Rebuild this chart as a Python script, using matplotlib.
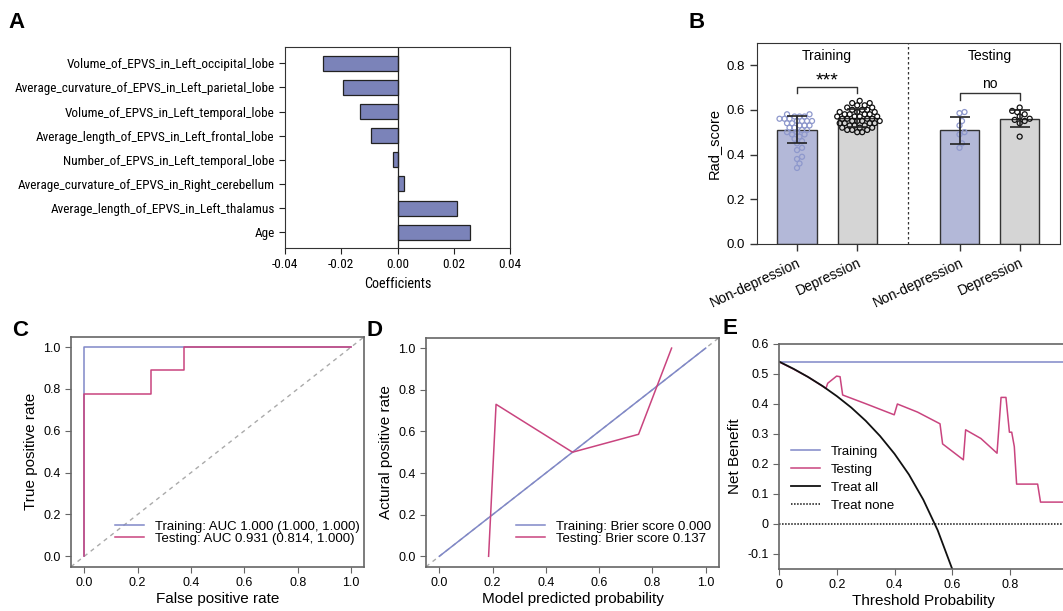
import numpy as np
import matplotlib
matplotlib.use("Agg")
from matplotlib import pyplot as plt
from matplotlib import font_manager

plt.rcParams['font.family'] = ['Liberation Sans', 'DejaVu Sans']

# ---- data ----
feature_names = [
    "Volume_of_EPVS_in_Left_occipital_lobe",
    "Average_curvature_of_EPVS_in_Left_parietal_lobe",
    "Volume_of_EPVS_in_Left_temporal_lobe",
    "Average_length_of_EPVS_in_Left_frontal_lobe",
    "Number_of_EPVS_in_Left_temporal_lobe",
    "Average_curvature_of_EPVS_in_Right_cerebellum",
    "Average_length_of_EPVS_in_Left_thalamus",
    "Age",
]
coefficients = [-0.0266, -0.0195, -0.0133, -0.0094, -0.0015, 0.0024, 0.0213, 0.0257]

group_labels = ["Non-depression", "Depression", "Non-depression", "Depression"]
group_means = [0.511, 0.562, 0.508, 0.559]
group_sd = [0.061, 0.040, 0.060, 0.038]
train_nondep = [0.34, 0.36, 0.38, 0.39, 0.42, 0.43, 0.45, 0.46, 0.47, 0.48, 0.49, 0.49,
                0.50, 0.50, 0.51, 0.51, 0.52, 0.52, 0.53, 0.53, 0.53, 0.54, 0.54, 0.55,
                0.55, 0.55, 0.55, 0.56, 0.56, 0.56, 0.57, 0.57, 0.57, 0.58, 0.58]
train_dep = [0.50, 0.50, 0.51, 0.51, 0.51, 0.52, 0.52, 0.52, 0.53, 0.53, 0.53, 0.54,
             0.54, 0.54, 0.54, 0.55, 0.55, 0.55, 0.55, 0.56, 0.56, 0.56, 0.56, 0.57,
             0.57, 0.57, 0.57, 0.58, 0.58, 0.58, 0.58, 0.59, 0.59, 0.59, 0.60, 0.60,
             0.60, 0.61, 0.61, 0.62, 0.62, 0.63, 0.63, 0.64]
test_nondep = [0.43, 0.45, 0.49, 0.50, 0.53, 0.55, 0.585, 0.59]
test_dep = [0.48, 0.54, 0.55, 0.555, 0.56, 0.57, 0.58, 0.59, 0.595, 0.61]

roc_train_fpr = [0.0, 0.0, 1.0]
roc_train_tpr = [0.0, 1.0, 1.0]
roc_test_fpr = [0.0, 0.0, 0.25, 0.25, 0.375, 0.375, 1.0]
roc_test_tpr = [0.0, 0.778, 0.778, 0.889, 0.889, 1.0, 1.0]

cal_train_pred = [0.0, 1.0]
cal_train_obs = [0.0, 1.0]
cal_test_pred = [0.185, 0.213, 0.5, 0.748, 0.872]
cal_test_obs = [0.0, 0.73, 0.5, 0.586, 1.0]

dca_train_x = [0.0, 1.0]
dca_train_y = [0.539, 0.539]
dca_test_x = [0.0, 0.05, 0.1, 0.162, 0.168, 0.199, 0.211, 0.22, 0.30, 0.399, 0.41, 0.48,
              0.558, 0.567, 0.639, 0.647, 0.70, 0.756, 0.77, 0.787, 0.799, 0.807, 0.816,
              0.824, 0.897, 0.907, 1.0]
dca_test_y = [0.539, 0.515, 0.489, 0.451, 0.468, 0.492, 0.49, 0.429, 0.40, 0.363, 0.399,
              0.372, 0.333, 0.266, 0.213, 0.313, 0.284, 0.235, 0.421, 0.421, 0.305, 0.305,
              0.257, 0.132, 0.132, 0.072, 0.072]
treat_all_x = [0.0, 0.05, 0.1, 0.15, 0.2, 0.25, 0.3, 0.35, 0.4, 0.45, 0.5, 0.55, 0.6]
treat_all_y = [0.54, 0.516, 0.489, 0.459, 0.425, 0.387, 0.343, 0.292, 0.233, 0.164,
               0.08, -0.022, -0.15]

C_TRAIN = '#8088c8'
C_TEST = '#c9447f'
SPINE = '#666666'

# narrow font for panel A if one is around, else shrink the regular one
installed = {f.name for f in font_manager.fontManager.ttflist}
NARROW = None
for cand in ['Liberation Sans Narrow', 'Arial Narrow', 'DejaVu Sans Condensed',
             'Roboto Condensed', 'Open Sans Condensed']:
    if cand in installed:
        NARROW = cand
        break
if NARROW:
    narrow_kw = dict(family=[NARROW, 'Liberation Sans'])
    a_size = 9.5
else:
    narrow_kw = dict(family=['Liberation Sans'])
    a_size = 8.3

fig = plt.figure(figsize=(10.63, 6.11), dpi=100)


def fig_rect(left, top, right, bottom):
    W, H = 1063.0, 611.0
    return [left / W, 1 - bottom / H, (right - left) / W, (bottom - top) / H]


def panel_label(x, y, s):
    fig.text(x / 1063.0, 1 - y / 611.0, s, fontsize=16, fontweight='bold',
             ha='left', va='top')


# ---- A: coefficients ----
axA = fig.add_axes(fig_rect(285, 47, 510, 248))
ypos = np.arange(len(feature_names))
axA.barh(ypos, coefficients, height=0.62, color='#7b83b9', edgecolor='#222222', lw=0.9)
axA.axvline(0, color='#222222', lw=0.9)
axA.set_ylim(len(feature_names) - 0.35, -0.67)
axA.set_xlim(-0.04, 0.04)
axA.set_xticks([-0.04, -0.02, 0.0, 0.02, 0.04])
axA.set_xticklabels(['-0.04', '-0.02', '0.00', '0.02', '0.04'], fontsize=a_size,
                    **narrow_kw)
axA.set_yticks(ypos)
axA.set_yticklabels(feature_names, fontsize=a_size, **narrow_kw)
axA.set_xlabel('Coefficients', fontsize=a_size + 0.7, **narrow_kw)
axA.tick_params(direction='out', length=4, color='#222222')
for sp in axA.spines.values():
    sp.set_color('#333333')
panel_label(8, 12, 'A')

# ---- B: rad score bars ----
axB = fig.add_axes(fig_rect(756.7, 42.7, 1060, 244))
xpos = [0, 1, 2.7, 3.7]
bar_colors = ['#b3b8d8', '#d5d5d5', '#b3b8d8', '#d5d5d5']
axB.bar(xpos, group_means, width=0.65, color=bar_colors, edgecolor='#333333', lw=1.0,
        zorder=1)
axB.set_xlim(-0.67, 4.37)
axB.set_ylim(0, 0.9)

# swarm offsets computed from the point values (no randomness)
xscale = 303.3 / 5.04   # px per x unit
yscale = 201.3 / 0.9    # px per y unit
diam = 5.0


def swarm(vals):
    placed = []
    offs = []
    for v in vals:
        k = 0
        while True:
            cand = (k + 1) // 2 * (1 if k % 2 else -1) * 0.5 * diam
            ok = all((cand - px) ** 2 + ((v - pv) * yscale) ** 2 >= diam ** 2
                     for px, pv in placed)
            if ok:
                break
            k += 1
        placed.append((cand, v))
        offs.append(cand / xscale)
    return np.array(offs)


point_sets = [train_nondep, train_dep, test_nondep, test_dep]
pt_colors = ['#8e98cc', '#111111', '#8e98cc', '#111111']
for xp, vals, c in zip(xpos, point_sets, pt_colors):
    vals = np.array(sorted(vals))
    axB.scatter(xp + swarm(vals), vals, s=13, facecolors='none', edgecolors=c,
                linewidths=0.9, zorder=3)
axB.errorbar(xpos, group_means, yerr=group_sd, fmt='none', ecolor='#222222',
             elinewidth=1.2, capsize=7, capthick=1.2, zorder=4)
axB.axvline(1.85, color='#333333', lw=0.9, ls=(0, (2, 2)))

# significance brackets
axB.plot([0, 0, 1, 1], [0.674, 0.70, 0.70, 0.674], color='#333333', lw=1)
axB.text(0.5, 0.69, '***', ha='center', va='bottom', fontsize=14)
axB.plot([2.7, 2.7, 3.7, 3.7], [0.644, 0.674, 0.674, 0.644], color='#333333', lw=1)
axB.text(3.2, 0.685, 'no', ha='center', va='bottom', fontsize=10)
axB.text(0.5, 0.84, 'Training', ha='center', va='center', fontsize=10)
axB.text(3.2, 0.84, 'Testing', ha='center', va='center', fontsize=10)

axB.set_xticks(xpos)
axB.set_xticklabels(group_labels, rotation=25, ha='right', rotation_mode='anchor',
                    fontsize=10)
axB.set_yticks([0, 0.2, 0.4, 0.6, 0.8])
axB.set_yticklabels(['0.0', '0.2', '0.4', '0.6', '0.8'], fontsize=9.5)
axB.set_ylabel('Rad_score', fontsize=10.5)
axB.tick_params(direction='out', length=5, color='#333333', width=1)
for sp in axB.spines.values():
    sp.set_color('#333333')
panel_label(688, 12, 'B')


def style_curve_axes(ax):
    for sp in ax.spines.values():
        sp.set_color(SPINE)
        sp.set_linewidth(1.2)
    ax.tick_params(direction='out', length=4, color=SPINE, labelsize=9)


leg_kw = dict(frameon=False, fontsize=9.5, handlelength=2.2, labelspacing=0.0,
              borderaxespad=0.2)

# ---- C: ROC ----
axC = fig.add_axes(fig_rect(71, 336.7, 364.3, 566.7))
axC.plot([-0.05, 1.05], [-0.05, 1.05], color='#aaaaaa', lw=1, ls=(0, (3, 3)))
axC.plot(roc_train_fpr, roc_train_tpr, color=C_TRAIN, lw=1.1,
         label='Training: AUC 1.000 (1.000, 1.000)')
axC.plot(roc_test_fpr, roc_test_tpr, color=C_TEST, lw=1.1,
         label='Testing: AUC 0.931 (0.814, 1.000)')
axC.set_xlim(-0.05, 1.05)
axC.set_ylim(-0.05, 1.05)
axC.set_xticks(np.arange(0, 1.01, 0.2))
axC.set_yticks(np.arange(0, 1.01, 0.2))
axC.set_xlabel('False positive rate', fontsize=11, labelpad=2)
axC.set_ylabel('True positive rate', fontsize=11)
axC.legend(loc='lower right', bbox_to_anchor=(1.01, 0.06), **leg_kw)
style_curve_axes(axC)
panel_label(12, 320, 'C')

# ---- D: calibration ----
axD = fig.add_axes(fig_rect(426, 337.7, 719, 566.7))
axD.plot([-0.05, 1.05], [-0.05, 1.05], color='#aaaaaa', lw=1, ls=(0, (3, 3)))
axD.plot(cal_train_pred, cal_train_obs, color=C_TRAIN, lw=1.1,
         label='Training: Brier score 0.000')
axD.plot(cal_test_pred, cal_test_obs, color=C_TEST, lw=1.1,
         label='Testing: Brier score 0.137')
axD.set_xlim(-0.05, 1.05)
axD.set_ylim(-0.05, 1.05)
axD.set_xticks(np.arange(0, 1.01, 0.2))
axD.set_yticks(np.arange(0, 1.01, 0.2))
axD.set_xlabel('Model predicted probability', fontsize=11, labelpad=2)
axD.set_ylabel('Actural positive rate', fontsize=11)
axD.legend(loc='lower right', bbox_to_anchor=(1.0, 0.06), **leg_kw)
style_curve_axes(axD)
panel_label(367, 320, 'D')

# ---- E: decision curve ----
axE = fig.add_axes(fig_rect(779.3, 343.7, 1067.3, 568.7))
axE.plot(dca_train_x, dca_train_y, color=C_TRAIN, lw=1.1, label='Training')
axE.plot(dca_test_x, dca_test_y, color=C_TEST, lw=1.1, label='Testing')
axE.plot(treat_all_x, treat_all_y, color='#111111', lw=1.3, label='Treat all')
axE.axhline(0, color='#111111', lw=1.1, ls=(0, (1, 1)), label='Treat none')
axE.set_xlim(0, 1.0)
axE.set_ylim(-0.15, 0.6)
axE.set_xticks([0, 0.2, 0.4, 0.6, 0.8])
axE.set_xticklabels(['0', '0.2', '0.4', '0.6', '0.8'])
axE.set_yticks([-0.1, 0, 0.1, 0.2, 0.3, 0.4, 0.5, 0.6])
axE.set_yticklabels(['-0.1', '0', '0.1', '0.2', '0.3', '0.4', '0.5', '0.6'])
axE.set_xlabel('Threshold Probability', fontsize=11, labelpad=2)
axE.set_ylabel('Net Benefit', fontsize=11)
axE.legend(loc='center left', frameon=False, fontsize=9.5, handlelength=2.2,
           labelspacing=0.45, bbox_to_anchor=(0.0, 0.4))
style_curve_axes(axE)
axE.spines['right'].set_visible(False)
panel_label(722, 318, 'E')

fig.savefig('out.png', dpi=100)
